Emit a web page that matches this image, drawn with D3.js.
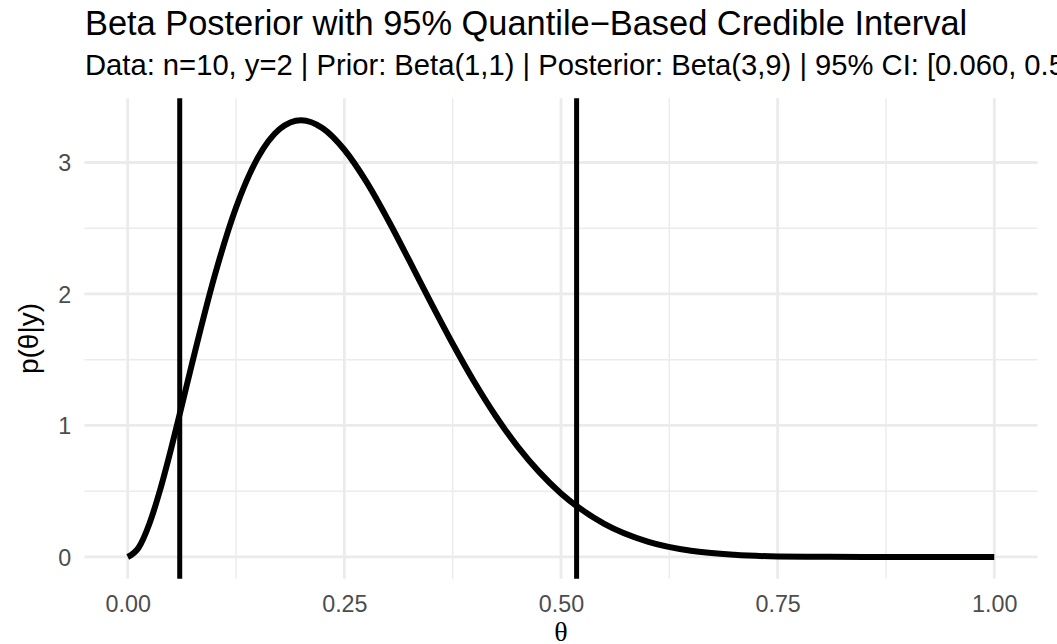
<!DOCTYPE html>
<html>
<head>
<meta charset="utf-8">
<script src="https://cdn.jsdelivr.net/npm/d3@7"></script>
<style>
  html, body { margin: 0; padding: 0; background: #fff; }
  svg { display: block; font-family: "Liberation Sans", Arial, sans-serif; }
</style>
</head>
<body>
<svg id="chart" width="1057" height="644"></svg>
<script>
// Posterior density p(theta | y) sampled along theta
const theta = [0, 0.0125, 0.025, 0.0375, 0.05, 0.0625, 0.075, 0.1, 0.125, 0.15, 0.175, 0.2,
  0.225, 0.25, 0.275, 0.3, 0.325, 0.35, 0.375, 0.4, 0.425, 0.45, 0.475, 0.5,
  0.55, 0.6, 0.65, 0.7, 0.75, 0.8, 0.85, 0.9, 0.95, 1.0];
const density = [0, 0.070, 0.253, 0.513, 0.821, 1.154, 1.492, 2.131, 2.658, 3.035, 3.253, 3.322,
  3.261, 3.097, 2.858, 2.568, 2.253, 1.932, 1.621, 1.330, 1.068, 0.839, 0.645, 0.483,
  0.252, 0.117, 0.047, 0.016, 0.004, 0.001, 0.0001, 0, 0, 0];

// 95% quantile-based credible interval bounds
const ciBounds = [0.060, 0.518];

const xTicks = [0, 0.25, 0.5, 0.75, 1.0];
const xTickLabels = ["0.00", "0.25", "0.50", "0.75", "1.00"];
const xMinor = [0.125, 0.375, 0.625, 0.875];
const yTicks = [0, 1, 2, 3];
const yMinor = [0.5, 1.5, 2.5];

const titleText = "Beta Posterior with 95% Quantile\u2212Based Credible Interval";
const subtitleText = "Data: n=10, y=2 | Prior: Beta(1,1) | Posterior: Beta(3,9) | 95% CI: [0.060, 0.518]";

const svg = d3.select("#chart");
const panel = { left: 84.4, right: 1037.6, top: 98.3, bottom: 578.8 };

const x = d3.scaleLinear().domain([-0.05, 1.05]).range([panel.left, panel.right]);
const yMax = d3.max(density);
const y = d3.scaleLinear().domain([-0.05 * yMax, yMax * 1.05]).range([panel.bottom, panel.top]);

const gridColor = "#ebebeb";
const grid = svg.append("g");
// minor grid
grid.selectAll(".vminor").data(xMinor).join("line")
  .attr("x1", d => x(d)).attr("x2", d => x(d))
  .attr("y1", panel.top).attr("y2", panel.bottom)
  .attr("stroke", gridColor).attr("stroke-width", 1.4);
grid.selectAll(".hminor").data(yMinor).join("line")
  .attr("x1", panel.left).attr("x2", panel.right)
  .attr("y1", d => y(d)).attr("y2", d => y(d))
  .attr("stroke", gridColor).attr("stroke-width", 1.4);
// major grid
grid.selectAll(".vmajor").data(xTicks).join("line")
  .attr("x1", d => x(d)).attr("x2", d => x(d))
  .attr("y1", panel.top).attr("y2", panel.bottom)
  .attr("stroke", gridColor).attr("stroke-width", 2.8);
grid.selectAll(".hmajor").data(yTicks).join("line")
  .attr("x1", panel.left).attr("x2", panel.right)
  .attr("y1", d => y(d)).attr("y2", d => y(d))
  .attr("stroke", gridColor).attr("stroke-width", 2.8);

// axes (labels only, no domain or tick marks)
const xAxis = d3.axisBottom(x).tickValues(xTicks)
  .tickFormat((d, i) => xTickLabels[i]).tickSize(0).tickPadding(0);
svg.append("g").attr("transform", `translate(0,${panel.bottom})`).call(xAxis)
  .call(g => g.select(".domain").remove())
  .call(g => g.selectAll("text").attr("dy", null).attr("y", 33.2)
    .attr("fill", "#4d4d4d").attr("font-size", 23.3).attr("font-family", "Liberation Sans, Arial, sans-serif"));

const yAxis = d3.axisLeft(y).tickValues(yTicks).tickFormat(d3.format("d")).tickSize(0).tickPadding(0);
svg.append("g").attr("transform", `translate(${panel.left},0)`).call(yAxis)
  .call(g => g.select(".domain").remove())
  .call(g => g.selectAll("text").attr("x", -13.1).attr("dy", "0.36em")
    .attr("fill", "#4d4d4d").attr("font-size", 23.3).attr("font-family", "Liberation Sans, Arial, sans-serif"));

// density curve
const line = d3.line().x((d, i) => x(theta[i])).y(d => y(d)).curve(d3.curveMonotoneX);
svg.append("path").datum(density).attr("d", line)
  .attr("fill", "none").attr("stroke", "#000").attr("stroke-width", 6)
  .attr("stroke-linejoin", "round");

// credible interval bounds
svg.selectAll(".ci").data(ciBounds).join("line")
  .attr("x1", d => x(d)).attr("x2", d => x(d))
  .attr("y1", panel.top).attr("y2", panel.bottom)
  .attr("stroke", "#000").attr("stroke-width", 5);

// titles
svg.append("text").attr("x", 85).attr("y", 35).text(titleText)
  .attr("font-size", 34.4).attr("fill", "#000");
svg.append("text").attr("x", 85).attr("y", 75).text(subtitleText)
  .attr("font-size", 29.2).attr("fill", "#000");

// axis titles
svg.append("text").attr("x", (panel.left + panel.right) / 2).attr("y", 640.5)
  .attr("text-anchor", "middle").attr("font-family", "Liberation Serif, serif")
  .attr("font-size", 28).text("\u03b8");
svg.append("text").attr("transform", `translate(38,${(panel.top + panel.bottom) / 2}) rotate(-90)`)
  .attr("text-anchor", "middle").attr("font-size", 28).text("p(\u03b8|y)");
</script>
</body>
</html>
